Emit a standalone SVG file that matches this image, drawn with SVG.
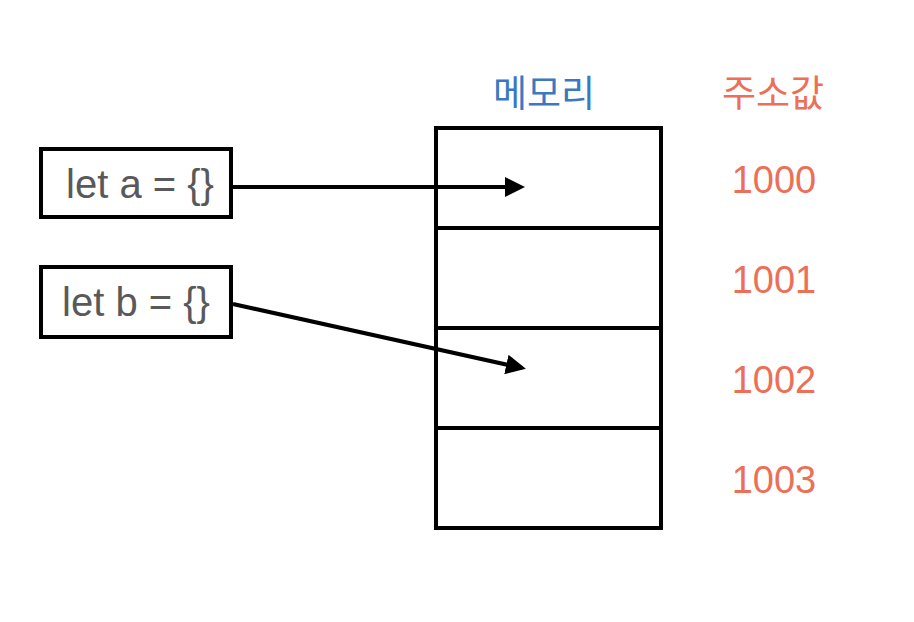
<svg xmlns="http://www.w3.org/2000/svg" width="914" height="622" viewBox="0 0 914 622">
<defs>
<style>
.box{fill:#fff;stroke:#000;stroke-width:4}
.code{font-family:"Liberation Sans",Arial,sans-serif;font-size:40px;fill:#595959;text-anchor:middle}
.addr{font-family:"Liberation Sans",Arial,sans-serif;font-size:38px;fill:#ec6f57;text-anchor:middle}
.title{font-family:"Noto Sans CJK KR","Liberation Sans",sans-serif;font-size:37px;text-anchor:middle}
.conn{stroke:#000;stroke-width:4;fill:none}
</style>
<marker id="ah" markerWidth="5" markerHeight="5" refX="4" refY="2.5" orient="auto" markerUnits="strokeWidth" viewBox="0 0 5 5">
<path d="M0,0 L5,2.5 L0,5 z" fill="#000"/>
</marker>
</defs>
<rect width="914" height="622" fill="#fff"/>
<g id="memory">
<rect class="box" x="436" y="128" width="225" height="400"/>
<line class="conn" x1="436" y1="228" x2="661" y2="228"/>
<line class="conn" x1="436" y1="328" x2="661" y2="328"/>
<line class="conn" x1="436" y1="428" x2="661" y2="428"/>
</g>
<g id="title-memory"><text class="title" x="544" y="107" fill="#3a79c1">메모리</text></g>
<g id="title-addr"><text class="title" x="773" y="107" fill="#ec6f57">주소값</text></g>
<g id="addresses">
<text class="addr" x="774" y="193">1000</text>
<text class="addr" x="774" y="293">1001</text>
<text class="addr" x="774" y="393">1002</text>
<text class="addr" x="774" y="493">1003</text>
</g>
<g id="var-a">
<rect class="box" x="41" y="149" width="190" height="68"/>
<text class="code" x="140" y="198">let a = {}</text>
</g>
<g id="var-b">
<rect class="box" x="41" y="267" width="190" height="70"/>
<text class="code" x="136" y="316">let b = {}</text>
</g>
<g id="connectors">
<line class="conn" x1="233" y1="187" x2="521" y2="187" marker-end="url(#ah)"/>
<line class="conn" x1="233" y1="304" x2="522" y2="368" marker-end="url(#ah)"/>
</g>
</svg>
